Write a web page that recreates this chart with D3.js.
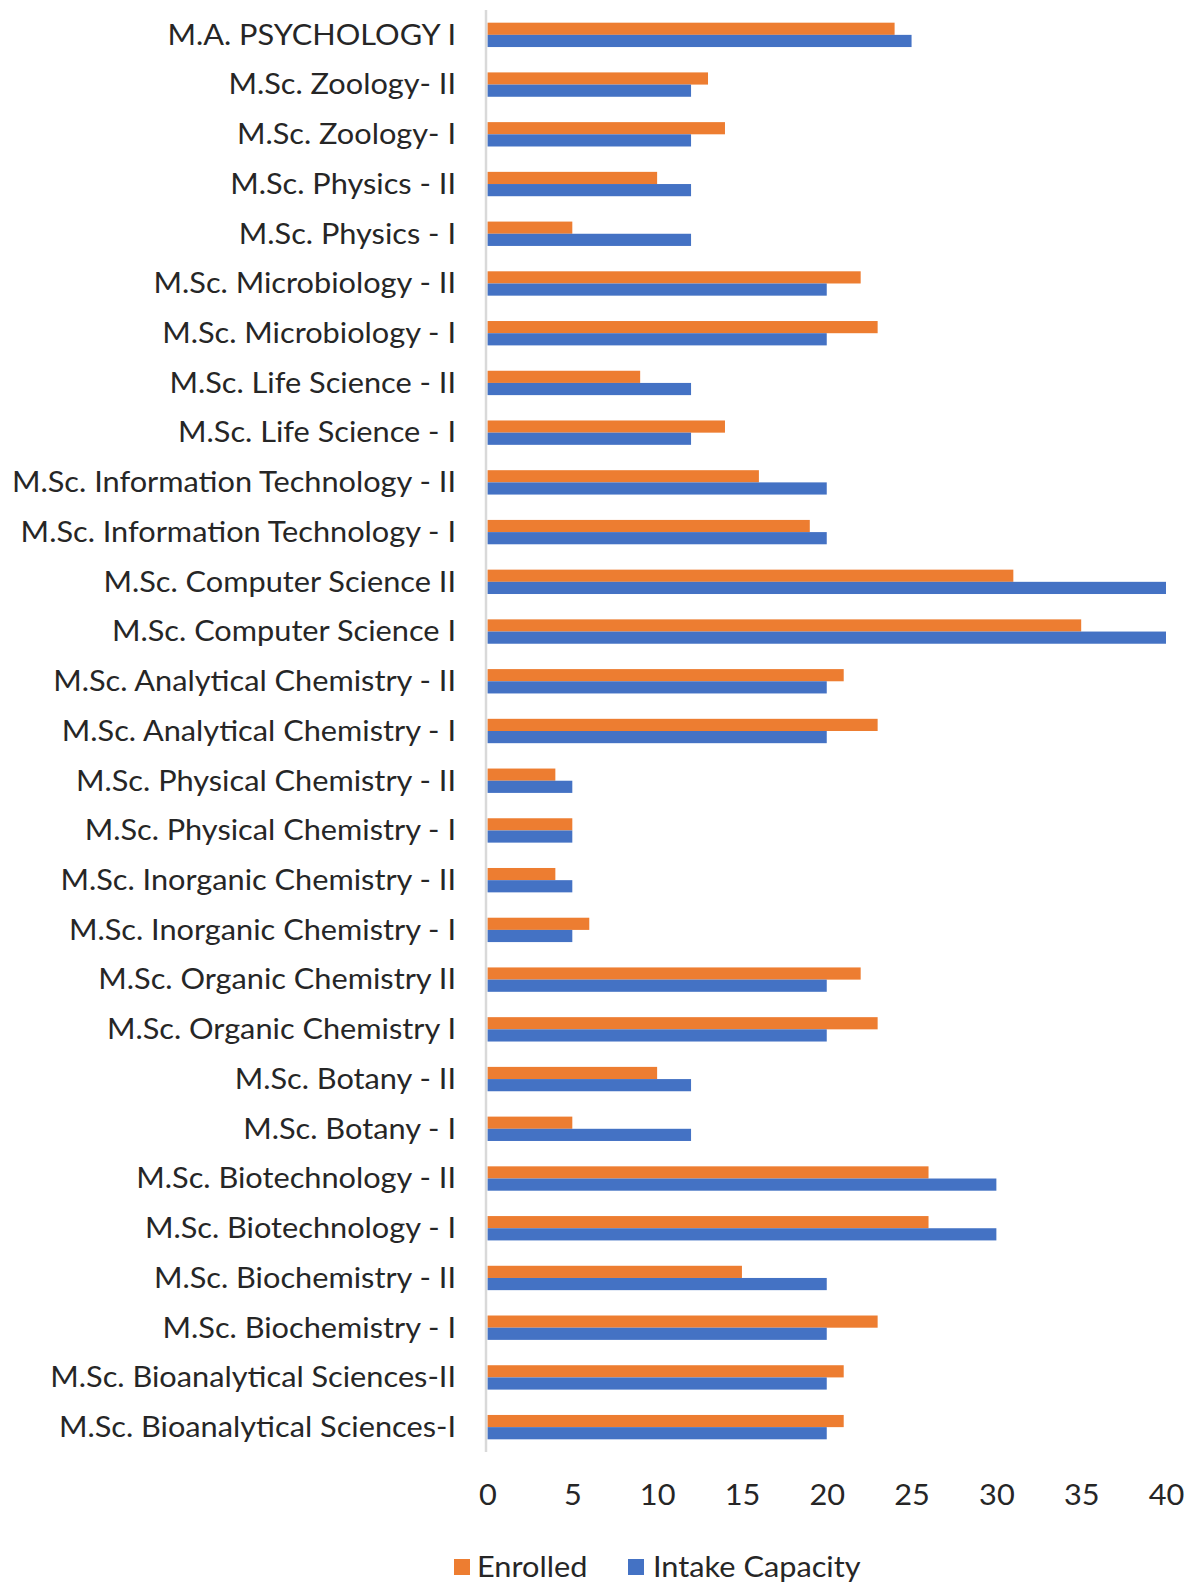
<!DOCTYPE html>
<html>
<head>
<meta charset="utf-8">
<script src="https://cdn.jsdelivr.net/npm/d3@7"></script>
<style>
  html, body { margin: 0; padding: 0; background: #ffffff; }
  svg { display: block; }
</style>
</head>
<body>
<svg id="chart" width="1189" height="1582"></svg>
<script>
// Categories, top to bottom as shown
const categories = [
  "M.A. PSYCHOLOGY I",
  "M.Sc. Zoology- II",
  "M.Sc. Zoology- I",
  "M.Sc. Physics - II",
  "M.Sc. Physics - I",
  "M.Sc. Microbiology - II",
  "M.Sc. Microbiology - I",
  "M.Sc. Life Science - II",
  "M.Sc. Life Science - I",
  "M.Sc. Information Technology - II",
  "M.Sc. Information Technology - I",
  "M.Sc. Computer Science II",
  "M.Sc. Computer Science I",
  "M.Sc. Analytical Chemistry - II",
  "M.Sc. Analytical Chemistry - I",
  "M.Sc. Physical Chemistry - II",
  "M.Sc. Physical Chemistry - I",
  "M.Sc. Inorganic Chemistry - II",
  "M.Sc. Inorganic Chemistry - I",
  "M.Sc. Organic Chemistry II",
  "M.Sc. Organic Chemistry I",
  "M.Sc. Botany - II",
  "M.Sc. Botany - I",
  "M.Sc. Biotechnology - II",
  "M.Sc. Biotechnology - I",
  "M.Sc. Biochemistry - II",
  "M.Sc. Biochemistry - I",
  "M.Sc. Bioanalytical Sciences-II",
  "M.Sc. Bioanalytical Sciences-I"
];
const enrolled = [24, 13, 14, 10, 5, 22, 23, 9, 14, 16, 19, 31, 35, 21, 23, 4, 5, 4, 6, 22, 23, 10, 5, 26, 26, 15, 23, 21, 21];
const intakeCapacity = [25, 12, 12, 12, 12, 20, 20, 12, 12, 20, 20, 40, 40, 20, 20, 5, 5, 5, 5, 20, 20, 12, 12, 30, 30, 20, 20, 20, 20];
const seriesNames = ["Enrolled", "Intake Capacity"];
const xTicks = [0, 5, 10, 15, 20, 25, 30, 35, 40];

const colors = { "Enrolled": "#ED7D31", "Intake Capacity": "#4472C4" };
const series = [enrolled, intakeCapacity];

const svg = d3.select("#chart");
const FONT = "Lato, 'Liberation Sans', sans-serif";
const FS = 28;
const TEXT = "#262626";

const plot = { left: 487.5, right: 1166, top: 10, bottom: 1452 };

const x = d3.scaleLinear().domain([0, 40]).range([plot.left, plot.right]);
const y = d3.scaleBand().domain(categories).range([plot.top, plot.bottom]).paddingInner(0).paddingOuter(0);
const barH = y.bandwidth() * 0.245;
const inner = d3.scaleBand().domain(seriesNames).range([y.bandwidth() / 2 - barH, y.bandwidth() / 2 + barH]);

// Bars
const g = svg.append("g");
seriesNames.forEach((name, si) => {
  g.selectAll(null)
    .data(categories.map((c, i) => ({ c, v: series[si][i] })))
    .enter().append("rect")
    .attr("x", x(0))
    .attr("y", d => y(d.c) + inner(name))
    .attr("width", d => x(d.v) - x(0))
    .attr("height", inner.bandwidth())
    .attr("fill", colors[name]);
});

// Vertical axis line
svg.append("line")
  .attr("x1", x(0) - 1.5).attr("x2", x(0) - 1.5)
  .attr("y1", plot.top).attr("y2", plot.bottom)
  .attr("stroke", "#D9D9D9").attr("stroke-width", 2.5);

// Category axis labels
const yAxis = d3.axisLeft(y).tickSize(0).tickPadding(0);
const yg = svg.append("g").attr("transform", `translate(456,0)`).call(yAxis);
yg.select(".domain").remove();
yg.selectAll("text")
  .attr("font-family", FONT).attr("font-size", FS).attr("fill", TEXT)
  .attr("text-anchor", "end").attr("dy", "0.35em").attr("x", 0);

// Value axis tick labels
const xAxis = d3.axisBottom(x).tickValues(xTicks).tickSize(0).tickPadding(0).tickFormat(d3.format("d"));
const xg = svg.append("g").attr("transform", `translate(0,1495)`).call(xAxis);
xg.select(".domain").remove();
xg.selectAll("text")
  .attr("font-family", FONT).attr("font-size", FS).attr("fill", TEXT)
  .attr("dy", "0.35em").attr("y", 0);

// Legend
const legendItems = [
  { name: "Enrolled", sx: 454, tx: 477 },
  { name: "Intake Capacity", sx: 628, tx: 653 }
];
const lg = svg.append("g");
legendItems.forEach(it => {
  lg.append("rect").attr("x", it.sx).attr("y", 1559).attr("width", 16).attr("height", 16).attr("fill", colors[it.name]);
  lg.append("text").attr("x", it.tx).attr("y", 1567).attr("dy", "0.35em")
    .attr("font-family", FONT).attr("font-size", FS).attr("fill", TEXT).text(it.name);
});

// Condense all text uniformly to approximate the narrow original face
const longest = yg.selectAll("text").filter(d => d === "M.Sc. Information Technology - II").node();
const factor = 444 / longest.getComputedTextLength();
svg.selectAll("text").each(function () {
  const w = this.getComputedTextLength();
  d3.select(this).attr("textLength", w * factor).attr("lengthAdjust", "spacingAndGlyphs");
});
</script>
</body>
</html>
